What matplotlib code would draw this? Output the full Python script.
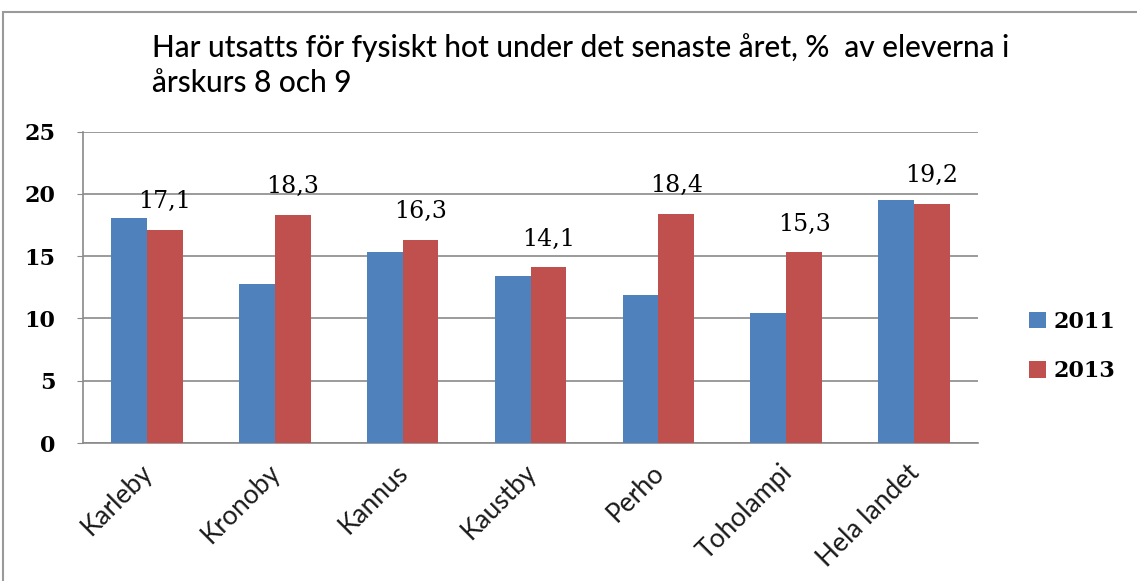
import numpy as np
import matplotlib
matplotlib.use('Agg')
import matplotlib.pyplot as plt
import matplotlib.transforms as mtrans
from matplotlib.patches import Rectangle

# andel elever (%) som utsatts för fysiskt hot
kommuner = ['Karleby', 'Kronoby', 'Kannus', 'Kaustby', 'Perho', 'Toholampi', 'Hela landet']
ar_2011 = [18.1, 12.8, 15.3, 13.4, 11.9, 10.4, 19.5]
ar_2013 = [17.1, 18.3, 16.3, 14.1, 18.4, 15.3, 19.2]
serier = ['2011', '2013']
farger = ['#4F81BD', '#C0504D']

W, H = 1137, 581
fig = plt.figure(figsize=(W / 100, H / 100), dpi=100)
ax = fig.add_axes([83 / W, 1 - 443 / H, (978 - 83) / W, (443 - 131.7) / H])

x = np.arange(len(kommuner))
bw = 0.28
ax.bar(x - bw / 2, ar_2011, bw, color=farger[0], label=serier[0], zorder=3)
ax.bar(x + bw / 2, ar_2013, bw, color=farger[1], label=serier[1], zorder=3)

# värdeetiketter över 2013-staplarna
for xi, v in zip(x, ar_2013):
    ax.annotate(f'{v:.1f}'.replace('.', ','), (xi + bw / 2, v), xytext=(0, 12),
                textcoords='offset points', ha='center', va='bottom',
                family='DejaVu Serif', fontsize=17, color='#000000')

ax.set_xlim(-0.5, len(kommuner) - 0.5)
ax.set_ylim(0, 25)
ax.set_yticks(range(0, 26, 5))
ax.yaxis.grid(True, color='#8a8a8a', linewidth=1.2, zorder=0)
ax.set_axisbelow(True)
for s in ['top', 'right']:
    ax.spines[s].set_visible(False)
for s in ['left', 'bottom']:
    ax.spines[s].set_color('#8a8a8a')
    ax.spines[s].set_linewidth(1.2)
ax.tick_params(axis='y', length=4, color='#8a8a8a', pad=16, labelsize=16)
for lbl in ax.get_yticklabels():
    lbl.set_family('DejaVu Serif')
    lbl.set_fontweight('bold')
ax.set_xticks(x)
ax.set_xticklabels(kommuner, rotation=45, ha='right', rotation_mode='anchor',
                   family='Lato', fontsize=19, color='#1a1a1a')
ax.tick_params(axis='x', length=0, pad=12)
# flytta kategorietiketterna lite åt vänster
skift = mtrans.ScaledTranslation(-7 / 100, 0, fig.dpi_scale_trans)
for lbl in ax.get_xticklabels():
    lbl.set_transform(lbl.get_transform() + skift)

ax.legend(loc='center left', bbox_to_anchor=(1.035, 0.31), frameon=False,
          handlelength=0.75, handleheight=0.75, handletextpad=0.35,
          labelspacing=1.25, prop={'family': 'DejaVu Serif', 'weight': 'bold', 'size': 16})

fig.text(152 / W, 1 - 65 / H, 'Har utsatts för fysiskt hot under det senaste året, %  av eleverna i\nårskurs 8 och 9',
         ha='left', va='center', family='Lato', fontweight='medium', fontsize=21.5,
         linespacing=1.3, color='#000000')

# ram runt diagrammet
fig.add_artist(Rectangle((3 / W, -0.1), 1.2, 1 - 12 / H + 0.1, transform=fig.transFigure,
                         fill=False, edgecolor='#9a9a9a', linewidth=1.5))

fig.savefig('out.png', dpi=100, facecolor='white')
